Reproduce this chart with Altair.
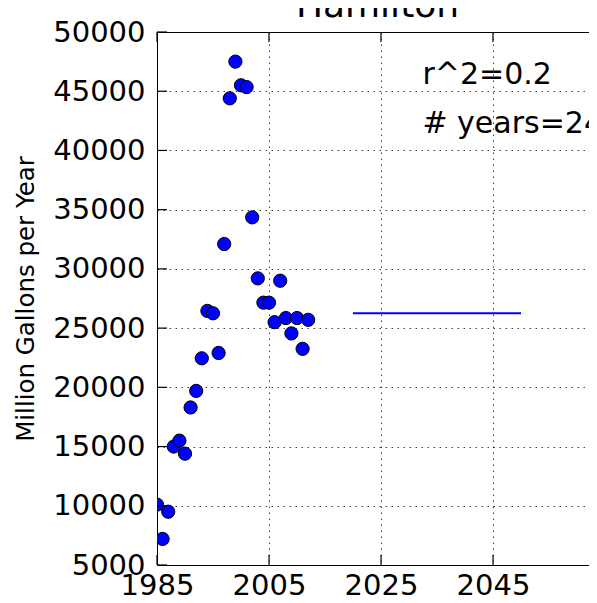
import altair as alt
import pandas as pd

# ---- data ----
years = [1985, 1986, 1987, 1988, 1989, 1990, 1991, 1992, 1993, 1994,
         1995, 1996, 1997, 1998, 1999, 2000, 2001, 2002, 2003, 2004,
         2005, 2006, 2007, 2008, 2009, 2010, 2011, 2012]
values = [10100, 7200, 9500, 15000, 15500, 14400, 18300, 19700, 22450, 26450,
          26250, 22900, 32100, 44400, 47500, 45500, 45350, 34350, 29200, 27150,
          27150, 25500, 29000, 25850, 24550, 25850, 23250, 25700]

proj_years = [2020, 2050]
proj_values = [26250, 26250]

ann_labels = ["r^2=0.2", "# years=24"]
ann_x = [2032.4, 2032.4]
ann_y = [45650, 41500]

xtick_values = [1985, 2005, 2025, 2045]
ytick_values = [5000, 10000, 15000, 20000, 25000, 30000, 35000, 40000, 45000, 50000]

title_text = ["Hamilton"]
y_title = "Million Gallons per Year"

# ---- tables ----
pts = pd.DataFrame({"year": years, "value": values})
proj = pd.DataFrame({"year": proj_years, "value": proj_values})
ann = pd.DataFrame({"label": ann_labels, "year": ann_x, "value": ann_y})
xt = pd.DataFrame({"tick": xtick_values})
yt = pd.DataFrame({"tick": ytick_values})
tt = pd.DataFrame({"label": title_text})

FONT = "DejaVu Sans"
W, H = 432, 533
xscale = alt.Scale(domain=[1985, 1985 + W / 5.6], nice=False, zero=False)
yscale = alt.Scale(domain=[5000, 50000], nice=False, zero=False)

points = alt.Chart(pts).mark_circle(
    size=175, color="#0000ff", opacity=1, stroke="black", strokeWidth=1, clip=True
).encode(
    x=alt.X("year:Q", scale=xscale,
            axis=alt.Axis(values=xtick_values, format="d", grid=True, ticks=False,
                          labelPadding=6, labelFlush=False, labelFontSize=29,
                          title=None, domain=True)),
    y=alt.Y("value:Q", scale=yscale,
            axis=alt.Axis(values=ytick_values, format="d", grid=True, ticks=False,
                          labelPadding=12, labelFlush=False, title=y_title, titleFont=FONT,
                          titleFontSize=24.5, titleFontWeight="normal",
                          titleColor="black", titleX=-124, titleY=H / 2,
                          titleAngle=270, titleBaseline="alphabetic",
                          titleAlign="center", domain=True)),
)

line = alt.Chart(proj).mark_line(color="#0000ff", strokeWidth=2).encode(
    x=alt.X("year:Q", scale=xscale, axis=None),
    y=alt.Y("value:Q", scale=yscale, axis=None),
)

texts = alt.Chart(ann).mark_text(
    align="left", baseline="alphabetic", font=FONT, fontSize=30, color="black", clip=True
).encode(
    x=alt.X("year:Q", scale=xscale, axis=None),
    y=alt.Y("value:Q", scale=yscale, axis=None),
    text="label:N",
)

title_mark = alt.Chart(tt).mark_text(
    align="center", baseline="alphabetic", font=FONT, fontSize=36, color="black"
).encode(
    x=alt.value(220.5), y=alt.value(-15), text="label:N",
)

bottom_ticks = alt.Chart(xt).mark_rule(color="black", strokeWidth=1.2).encode(
    x=alt.X("tick:Q", scale=xscale, axis=None),
    y=alt.value(H), y2=alt.value(H - 10),
)

top_ticks = alt.Chart(xt).mark_rule(color="black", strokeWidth=1.2).encode(
    x=alt.X("tick:Q", scale=xscale,
            axis=alt.Axis(orient="top", labels=False, ticks=False, grid=False,
                          domain=True, title=None)),
    y=alt.value(0), y2=alt.value(10),
)

left_ticks = alt.Chart(yt).mark_rule(color="black", strokeWidth=1.2).encode(
    y=alt.Y("tick:Q", scale=yscale, axis=None),
    x=alt.value(0), x2=alt.value(10),
)

chart = alt.layer(
    points, line, texts, bottom_ticks, top_ticks, left_ticks, title_mark
).resolve_axis(
    x="independent", y="independent"
).properties(
    width=W, height=H,
    autosize=alt.AutoSizeParams(type="none"),
    padding={"left": 149, "top": 24, "right": 0, "bottom": 35},
).configure_view(
    stroke=None
).configure_axis(
    labelFont=FONT, labelFontSize=29, labelColor="black",
    domainColor="black", domainWidth=1,
    gridColor="#000000", gridOpacity=0.75, gridWidth=1, gridDash=[1.5, 4.5],
)

chart.save("out.html", embed_options={"renderer": "svg", "actions": False})
